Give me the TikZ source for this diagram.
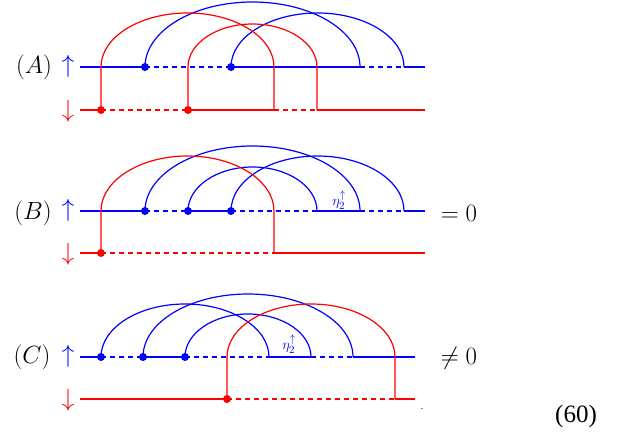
\documentclass[tikz,border=0pt]{standalone}
\usepackage{fontspec}
\newfontfamily\timesf{Liberation Serif}
\begin{document}
\begin{tikzpicture}[x=1pt,y=-1pt,
  bl/.style={blue,line width=1.2pt},
  rd/.style={red,line width=1.2pt},
  dsh/.style={dash pattern=on 5pt off 4pt},
  bdot/.style={circle,fill=blue,inner sep=0pt,minimum size=8pt},
  rdot/.style={circle,fill=red,inner sep=0pt,minimum size=8pt},
  lab/.style={font=\fontsize{25}{30}\selectfont},
  arr/.style={font=\fontsize{24}{28}\selectfont},
  eta/.style={blue,font=\fontsize{15}{17}\selectfont,inner sep=0pt}]
\useasboundingbox (0,0) rectangle (623,431);
% ---------------- Panel A ----------------
\node[lab] (lA) at (34,67) {$(A)$};
\node[arr,blue] (uA) at (68,66) {$\uparrow$};
\node[arr,red] (dA) at (68,111) {$\downarrow$};
\coordinate (A0) at (80,67); \coordinate (A1) at (145,67); \coordinate (A2) at (231,67);
\coordinate (A3) at (360,67); \coordinate (A4) at (404,67); \coordinate (A5) at (425,67);
\coordinate (a0) at (80,110); \coordinate (a1) at (101,110); \coordinate (a2) at (188,110);
\coordinate (a3) at (274,110); \coordinate (a4) at (317,110); \coordinate (a5) at (425,110);
\draw[bl] (A0) -- (A1); \draw[bl,dsh] (A1) -- (A2); \draw[bl] (A2) -- (A3);
\draw[bl,dsh] (A3) -- (A4); \draw[bl] (A4) -- (A5);
\draw[rd] (a0) -- (a1); \draw[rd,dsh] (a1) -- (a2); \draw[rd] (a2) -- (a3);
\draw[rd,dsh] (a3) -- (a4); \draw[rd] (a4) -- (a5);
\draw[bl] (A1) arc[start angle=180,end angle=360,x radius=107.5,y radius=65];
\draw[bl] (A2) arc[start angle=180,end angle=360,x radius=86.5,y radius=54];
\draw[rd] (a1) -- (101,67) arc[start angle=180,end angle=360,x radius=86.5,y radius=54] -- (a3);
\draw[rd] (a2) -- (188,67) arc[start angle=180,end angle=360,x radius=64.5,y radius=43] -- (a4);
\node[bdot] at (A1) {}; \node[bdot] at (A2) {};
\node[rdot] at (a1) {}; \node[rdot] at (a2) {};
% ---------------- Panel B ----------------
\node[lab] (lB) at (33,213) {$(B)$};
\node[arr,blue] (uB) at (68,210) {$\uparrow$};
\node[arr,red] (dB) at (68,254) {$\downarrow$};
\coordinate (B0) at (80,211); \coordinate (B1) at (145,211); \coordinate (B2) at (188,211);
\coordinate (B3) at (231,211); \coordinate (B4) at (317,211); \coordinate (B5) at (360,211);
\coordinate (B6) at (404,211); \coordinate (B7) at (425,211);
\coordinate (b0) at (80,253); \coordinate (b1) at (101,253); \coordinate (b2) at (274,253);
\coordinate (b3) at (425,253);
\draw[bl] (B0) -- (B1); \draw[bl,dsh] (B1) -- (B2); \draw[bl] (B2) -- (B3);
\draw[bl,dsh] (B3) -- (B4); \draw[bl] (B4) -- (B5); \draw[bl,dsh] (B5) -- (B6);
\draw[bl] (B6) -- (B7);
\draw[rd] (b0) -- (b1); \draw[rd,dsh] (b1) -- (b2); \draw[rd] (b2) -- (b3);
\draw[bl] (B1) arc[start angle=180,end angle=360,x radius=107.5,y radius=65];
\draw[bl] (B2) arc[start angle=180,end angle=360,x radius=64.5,y radius=44];
\draw[bl] (B3) arc[start angle=180,end angle=360,x radius=86.5,y radius=55];
\draw[rd] (b1) -- (101,211) arc[start angle=180,end angle=360,x radius=86.5,y radius=55] -- (b2);
\node[bdot] at (B1) {}; \node[bdot] at (B2) {}; \node[bdot] at (B3) {};
\node[rdot] at (b1) {};
\node[eta] (etaB) at (339,200) {$\eta_2^{\uparrow}$};
\node[lab] (zB) at (459,213) {$=0$};
% ---------------- Panel C ----------------
\node[lab] (lC) at (32,357) {$(C)$};
\node[arr,blue] (uC) at (68,356) {$\uparrow$};
\node[arr,red] (dC) at (68,400) {$\downarrow$};
\coordinate (C0) at (80,357); \coordinate (C1) at (101,357); \coordinate (C2) at (143,357);
\coordinate (C3) at (185,357); \coordinate (C4) at (269,357); \coordinate (C5) at (311,357);
\coordinate (C6) at (353,357); \coordinate (C7) at (415,357);
\coordinate (c0) at (80,399); \coordinate (c1) at (227,399); \coordinate (c2) at (395,399);
\coordinate (c3) at (415,399);
\draw[bl] (C0) -- (C1); \draw[bl,dsh] (C1) -- (C2); \draw[bl] (C2) -- (C3);
\draw[bl,dsh] (C3) -- (C4); \draw[bl] (C4) -- (C5); \draw[bl,dsh] (C5) -- (C6);
\draw[bl] (C6) -- (C7);
\draw[rd] (c0) -- (c1); \draw[rd,dsh] (c1) -- (c2); \draw[rd] (c2) -- (c3);
\draw[bl] (C1) arc[start angle=180,end angle=360,x radius=84,y radius=53];
\draw[bl] (C2) arc[start angle=180,end angle=360,x radius=105,y radius=63];
\draw[bl] (C3) arc[start angle=180,end angle=360,x radius=63,y radius=43];
\draw[rd] (c1) -- (227,357) arc[start angle=180,end angle=360,x radius=84,y radius=53] -- (c2);
\node[bdot] at (C1) {}; \node[bdot] at (C2) {}; \node[bdot] at (C3) {};
\node[rdot] at (c1) {};
\node[eta] (etaC) at (289,344) {$\eta_2^{\uparrow}$};
\node[lab] (zC) at (459,358) {$\neq0$};
\node[inner sep=1pt,font=\fontsize{12}{14}\selectfont] (pt) at (422,409) {.};
\node[font=\timesf\fontsize{25}{28}\selectfont] (eq) at (576,416) {(60)};
\end{tikzpicture}
\end{document}
